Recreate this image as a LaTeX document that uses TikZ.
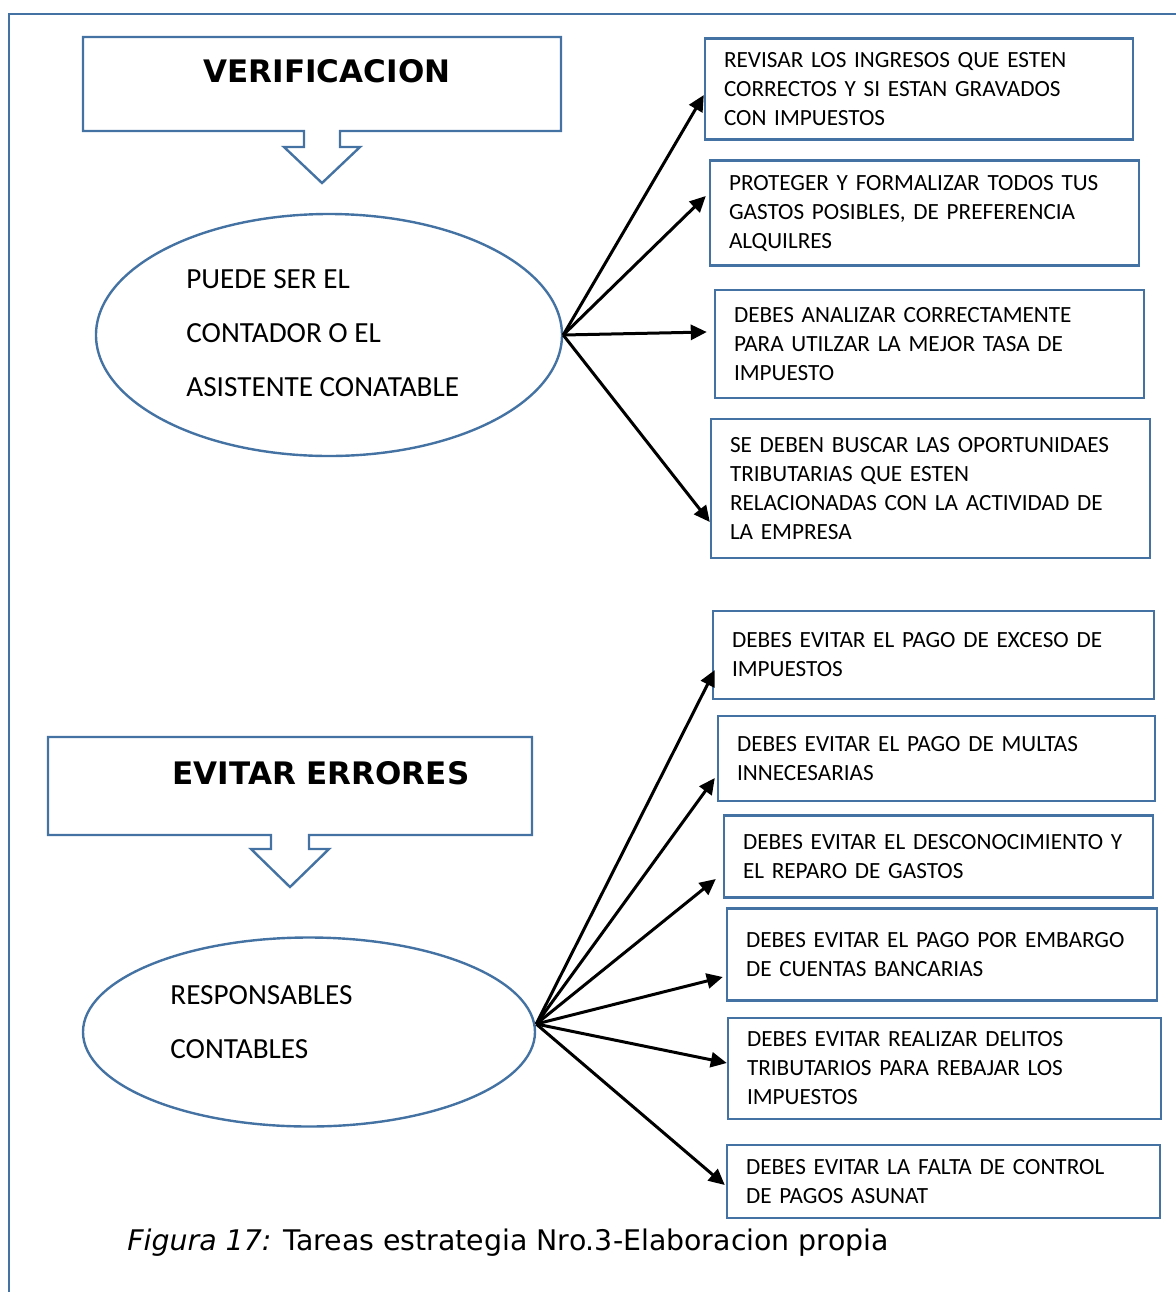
\documentclass[tikz,border=0pt]{standalone}
\usepackage{fontspec}
\setmainfont{Carlito}
\newfontfamily\titulofont{DejaVu Sans}
\newfontfamily\leyendafont{DejaVu Sans}
\usetikzlibrary{arrows.meta,shapes.geometric}
\definecolor{azulmarco}{RGB}{68,114,162}

\begin{document}
\begin{tikzpicture}[x=0.5pt,y=-0.5pt,>={Triangle[length=8pt,width=7.5pt]},
    marco/.style={draw=azulmarco,line width=1.2pt},
    tarea/.style={marco,rectangle,align=left,inner xsep=9.5pt,font=\fontsize{11.6}{14.5}\selectfont},
    ovalo/.style={marco,ellipse,inner sep=0pt},
    ovalotexto/.style={anchor=base west,align=left,inner sep=0pt,font=\fontsize{14.6}{27}\selectfont},
    titulo/.style={font=\titulofont\bfseries\fontsize{15.5}{18}\selectfont},
    flecha/.style={->,line width=1.5pt}]
    \useasboundingbox (0,0) rectangle (1176,1292);

    % marco de la hoja
    \draw[azulmarco,line width=1pt] (9,1300) -- (9,14) -- (1180,14);

    % VERIFICACION
    \draw[marco] (83,37) -- (561,37) -- (561,131) -- (340,131) -- (340,147) -- (360,147)
      -- (322,183) -- (284,147) -- (304,147) -- (304,131) -- (83,131) -- cycle;
    \node[titulo] (verif) at (327,71) {VERIFICACION};

    \node[ovalo,minimum width=233pt,minimum height=121pt] (e1) at (329,335) {};
    \node[ovalotexto] (contador) at (186,396) {PUEDE SER EL\\CONTADOR O EL\\ASISTENTE CONATABLE};

    \node[tarea,minimum width=214pt,minimum height=50.5pt,text width=195pt] (t1) at (919,89)
      {REVISAR LOS INGRESOS QUE ESTEN\\CORRECTOS Y SI ESTAN GRAVADOS\\CON IMPUESTOS};
    \node[tarea,minimum width=214.5pt,minimum height=52.5pt,text width=195.5pt] (t2) at (924.5,213)
      {PROTEGER Y FORMALIZAR TODOS TUS\\GASTOS POSIBLES, DE PREFERENCIA\\ALQUILRES};
    \node[tarea,minimum width=214.5pt,minimum height=54pt,text width=195.5pt] (t3) at (929.5,344)
      {DEBES ANALIZAR CORRECTAMENTE\\PARA UTILZAR LA MEJOR TASA DE\\IMPUESTO};
    \node[tarea,minimum width=219.5pt,minimum height=69.5pt,text width=200.5pt] (t4) at (930.5,488.5)
      {SE DEBEN BUSCAR LAS OPORTUNIDAES\\TRIBUTARIAS QUE ESTEN\\RELACIONADAS CON LA ACTIVIDAD DE\\LA EMPRESA};

    \foreach \t/\s/\d in {t1/-3pt/0pt,t2/8.5pt/-1.5pt,t3/6pt/-3.5pt,t4/-16.75pt/0pt} {
      \draw[flecha] (e1.east) -- ([yshift=\s,xshift=\d]\t.west);
    }

    % EVITAR ERRORES
    \draw[marco] (48,737) -- (532,737) -- (532,835) -- (309,835) -- (309,849) -- (329,849)
      -- (290,887) -- (251,849) -- (271,849) -- (271,835) -- (48,835) -- cycle;
    \node[titulo] (evitar) at (321,773) {EVITAR ERRORES};

    \node[ovalo,minimum width=226pt,minimum height=94.5pt] (e2) at (309,1032) {};
    \node[ovalotexto] (resp) at (170,1058) {RESPONSABLES\\CONTABLES};

    \node[tarea,minimum width=220.5pt,minimum height=44pt,text width=201.5pt] (t5) at (933.5,655)
      {DEBES EVITAR EL PAGO DE EXCESO DE\\IMPUESTOS};
    \node[tarea,minimum width=218.5pt,minimum height=42.5pt,text width=199.5pt] (t6) at (936.5,758.5)
      {DEBES EVITAR EL PAGO DE MULTAS\\INNECESARIAS};
    \node[tarea,minimum width=214.5pt,minimum height=41pt,text width=195.5pt] (t7) at (938.5,856.5)
      {DEBES EVITAR EL DESCONOCIMIENTO Y\\EL REPARO DE GASTOS};
    \node[tarea,minimum width=215pt,minimum height=46pt,text width=196pt] (t8) at (942,954.5)
      {DEBES EVITAR EL PAGO POR EMBARGO\\DE CUENTAS BANCARIAS};
    \node[tarea,minimum width=216.5pt,minimum height=50.5pt,text width=197.5pt] (t9) at (944.5,1068.5)
      {DEBES EVITAR REALIZAR DELITOS\\TRIBUTARIOS PARA REBAJAR LOS\\IMPUESTOS};
    \node[tarea,minimum width=216.5pt,minimum height=36.5pt,text width=197.5pt] (t10) at (943.5,1181.5)
      {DEBES EVITAR LA FALTA DE CONTROL\\DE PAGOS ASUNAT};

    \coordinate (salida) at ([yshift=4pt]e2.east);
    \foreach \t/\s/\d in {t5/-7.5pt/1.5pt,t6/-9.75pt/-1pt,t7/-11.25pt/-3.5pt,t8/-11.25pt/-1.5pt,t9/2.75pt/0pt,t10/-1.75pt/-0.5pt} {
      \draw[flecha] (salida) -- ([yshift=\s,xshift=\d]\t.west);
    }

    \node[anchor=base west,inner sep=0pt,font=\leyendafont\fontsize{14.2}{16}\selectfont] (leyenda) at (127,1250)
      {\textit{Figura 17:} Tareas estrategia Nro.3-Elaboracion propia};
  \end{tikzpicture}
\end{document}
